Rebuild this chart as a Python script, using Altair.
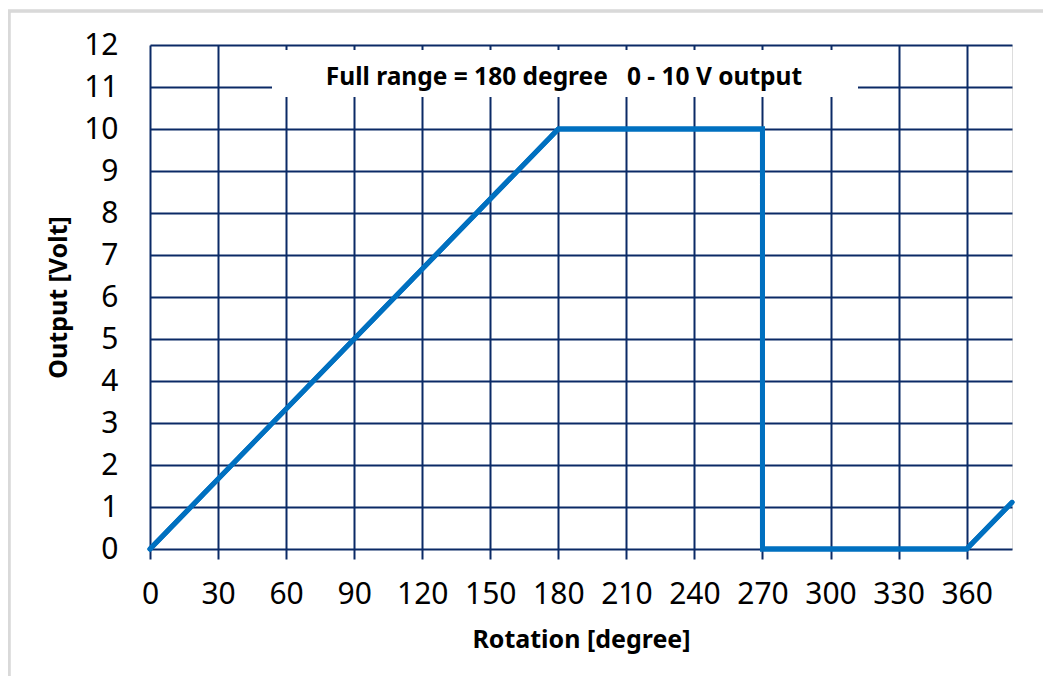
import altair as alt
import pandas as pd

rotation = [0, 180, 270, 270, 360, 380]
output = [0, 10, 10, 0, 0, 1.11]
x_ticks = [0, 30, 60, 90, 120, 150, 180, 210, 240, 270, 300, 330, 360]
y_ticks = list(range(0, 13))
note = "Full range = 180 degree \u00a0 0 - 10 V output"

df = pd.DataFrame({"rotation": rotation, "output": output, "order": list(range(len(rotation)))})

GRID = "#0B2A66"
FONT = "Noto Sans"

x_enc = alt.X("rotation:Q", scale=alt.Scale(domain=[0, 380], nice=False, zero=False),
              axis=alt.Axis(values=x_ticks, title="Rotation [degree]", grid=True,
                            gridColor=GRID, gridWidth=2, gridOpacity=1,
                            domain=False, tickColor=GRID, tickWidth=2, tickSize=10,
                            labelFontSize=30, labelFont=FONT, labelColor="#000",
                            labelFlush=False, labelOverlap=False,
                            labelPadding=20, titleFont=FONT, titleFontSize=25,
                            titleFontWeight="bold", titleColor="#000", titlePadding=18))
y_enc = alt.Y("output:Q", scale=alt.Scale(domain=[0, 12], nice=False),
              axis=alt.Axis(values=y_ticks, title="Output [Volt]", grid=True,
                            gridColor=GRID, gridWidth=2, gridOpacity=1,
                            domain=False, ticks=False,
                            labelFontSize=30, labelFont=FONT, labelColor="#000",
                            labelFlush=False, labelOverlap=False,
                            labelPadding=32, titleFont=FONT, titleFontSize=25,
                            titleFontWeight="bold", titleColor="#000", titlePadding=12))

base = alt.Chart(df)

border = base.mark_rect(fill=None, stroke="#D9D9D9", strokeWidth=2.5).encode(
    x=alt.value(-141), x2=alt.value(920), y=alt.value(-34), y2=alt.value(660)
)

line = base.mark_line(color="#0070C0", strokeWidth=5, strokeCap="round", strokeJoin="miter", clip=False).encode(
    x=x_enc, y=y_enc, order="order:Q"
)

box = base.mark_rect(fill="white", stroke=None).encode(
    x=alt.value(122), x2=alt.value(708), y=alt.value(5), y2=alt.value(52)
)

label = alt.Chart(pd.DataFrame({"t": [note]})).mark_text(
    font=FONT, fontSize=24.5, fontWeight="bold", color="#000", align="center", baseline="middle"
).encode(text="t:N", x=alt.value(414), y=alt.value(33))

chart = alt.layer(line, border, box, label, line).properties(
    width=862, height=504,
    autosize=alt.AutoSizeParams(type="none"),
    padding={"left": 142, "top": 37, "right": 31, "bottom": 127},
).configure_view(stroke=None).configure(background="white")

chart.save("out.html", embed_options={"renderer": "svg", "actions": False})
